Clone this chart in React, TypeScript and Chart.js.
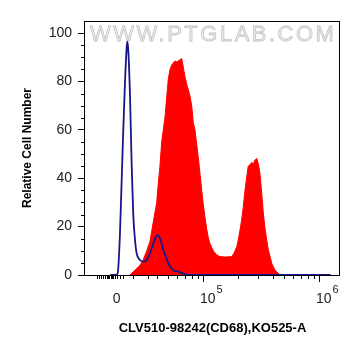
import React, { useEffect, useRef } from 'react';
import { Chart, registerables } from 'chart.js';

Chart.register(...registerables);

const FONT = '"Liberation Sans", Arial, Helvetica, sans-serif';

// x values are display positions on the biexponential axis (100 units per decade; 10^5 -> 500)
const isotypeX = [420, 425.0, 426.1, 427.0, 428.5, 429.9, 431.3, 432.8, 434.2, 434.7, 435.6, 437.1, 438.5, 439.9, 441.4, 442.8, 445.7, 448.5, 451.5, 454.3, 457.2, 459.1, 460.8, 462.6, 464.4, 465.8, 467.2, 470.1, 472.4, 474.4, 478.7, 481.6, 485.9, 488.8, 500, 610];
const isotypeY = [0, 0, 0.3, 3, 18, 39, 60, 80, 94, 96.5, 93, 74, 46, 25, 14.5, 9, 6.2, 5.5, 6.2, 9, 13, 15.5, 16.5, 15.5, 13, 10.3, 8.5, 4.8, 3, 2, 1.4, 0.8, 0.2, 0, 0, 0];

const cd68X = [437.1, 441.4, 445.7, 448.3, 451.5, 454.3, 457.2, 460.1, 461.5, 462.9, 464.4, 465.8, 467.2, 469.0, 470.1, 471.6, 473.3, 475.9, 477.6, 478.7, 480.2, 481.6, 483.0, 484.5, 485.9, 487.1, 488.8, 490.3, 491.6, 493.1, 494.6, 496.1, 497.4, 498.9, 500.3, 501.7, 503.2, 504.6, 506.0, 508.9, 511.8, 514.7, 519.0, 524.7, 526.7, 529.1, 530.4, 531.9, 533.4, 534.7, 536.2, 537.7, 539.0, 540.5, 541.9, 543.4, 544.8, 546.3, 547.7, 549.1, 550.6, 552.0, 553.4, 554.9, 556.3, 557.8, 559.5, 562.1, 566.4];
const cd68Y = [0, 2, 4, 6, 10, 14, 22, 30, 38, 45, 55, 60, 65, 75, 81, 85, 87, 88.5, 88, 88.5, 89, 89.5, 86, 82, 79, 77, 74, 70, 63, 60, 54, 48, 42, 35, 29, 24, 19, 15.5, 13, 10, 8.3, 7.6, 7.4, 7.6, 9, 11.7, 14.5, 18.6, 23, 28, 35, 40.6, 45, 45.5, 46.5, 46, 47.5, 48.2, 46, 42, 34, 25.6, 19.5, 14.5, 10.5, 7.6, 4.5, 2, 0];

const yMajorTicks = [0, 20, 40, 60, 80, 100];
const yMinorTicks = [5, 10, 15, 25, 30, 35, 45, 50, 55, 65, 70, 75, 85, 90, 95];

const xLabelPositions = [425.6, 500, 600];
const xLabelBase = ['0', '10', '10'];
const xLabelExp = ['', '5', '6'];
const xMajorTicks = [500, 600];
const xMinorTicks = [408.4, 410.4, 412.1, 414.1, 415.5, 417.0, 418.4, 419.4, 420.4, 421.6, 422.7, 424.1, 426.1, 428.5, 430.8, 439.9, 452.8, 460.2, 469.9, 477.8, 484.5, 490.3, 495.4, 530.1, 547.7, 560.2, 569.9, 577.8, 584.5, 590.3, 595.4];

const X_MIN = 398.3;
const X_MAX = 618.1;
const Y_MIN = 0;
const Y_MAX = 105;

const WATERMARK = 'WWW.PTGLAB.COM';
const X_TITLE = 'CLV510-98242(CD68),KO525-A';
const Y_TITLE = 'Relative Cell Number';

const decorPlugin = {
  id: 'decor',
  beforeDatasetsDraw(chart: any) {
    const { ctx, chartArea } = chart;
    ctx.save();
    ctx.font = `22px ${FONT}`;
    try { (ctx as any).letterSpacing = '2.5px'; } catch (e) {}
    ctx.textAlign = 'left';
    ctx.textBaseline = 'alphabetic';
    ctx.fillStyle = '#eeeeee';
    ctx.strokeStyle = '#c4c4c4';
    ctx.lineWidth = 0.8;
    ctx.fillText(WATERMARK, chartArea.left + 5, chartArea.top + 20);
    ctx.strokeText(WATERMARK, chartArea.left + 5, chartArea.top + 20);
    ctx.restore();
  },
  afterDatasetsDraw(chart: any) {
    const { ctx, chartArea, scales } = chart;
    const xs = scales.x;
    const ys = scales.y;
    ctx.save();
    // frame
    ctx.strokeStyle = '#000';
    ctx.lineWidth = 1;
    ctx.strokeRect(Math.round(chartArea.left) - 0.5, Math.round(chartArea.top) + 0.5,
      Math.round(chartArea.right - chartArea.left) + 0, Math.round(chartArea.bottom - chartArea.top));
    // y minor ticks
    ctx.beginPath();
    yMinorTicks.forEach((v) => {
      const py = Math.round(ys.getPixelForValue(v)) + 0.5;
      ctx.moveTo(chartArea.left - 4, py);
      ctx.lineTo(chartArea.left, py);
    });
    // x ticks
    const base = Math.round(chartArea.bottom);
    xMinorTicks.forEach((v) => {
      const px = Math.round(xs.getPixelForValue(v)) + 0.5;
      ctx.moveTo(px, base);
      ctx.lineTo(px, base + 4);
    });
    xMajorTicks.forEach((v) => {
      const px = Math.round(xs.getPixelForValue(v)) + 0.5;
      ctx.moveTo(px, base);
      ctx.lineTo(px, base + 7);
    });
    ctx.stroke();
    // x labels with superscript exponent
    ctx.fillStyle = '#222';
    ctx.textBaseline = 'alphabetic';
    xLabelPositions.forEach((v, i) => {
      const px = xs.getPixelForValue(v);
      if (!xLabelExp[i]) {
        ctx.font = `14px ${FONT}`;
        ctx.textAlign = 'center';
        ctx.fillText(xLabelBase[i], px, base + 28);
      } else {
        ctx.font = `14px ${FONT}`;
        ctx.textAlign = 'left';
        const left = px - 3;
        ctx.fillText(xLabelBase[i], left, base + 28);
        const w = ctx.measureText(xLabelBase[i]).width;
        ctx.font = `11px ${FONT}`;
        ctx.fillText(xLabelExp[i], left + w + 1, base + 18);
      }
    });
    ctx.restore();
  },
};

export default function App() {
  const canvasRef = useRef<HTMLCanvasElement | null>(null);

  useEffect(() => {
    const canvas = canvasRef.current;
    if (!canvas) return;
    const chart = new Chart(canvas, {
      type: 'line',
      data: {
        datasets: [
          {
            label: 'Isotype control',
            data: isotypeX.map((x, i) => ({ x, y: isotypeY[i] })),
            borderColor: '#16168c',
            borderWidth: 1.8,
            pointRadius: 0,
            fill: false,
            cubicInterpolationMode: 'monotone',
          },
          {
            label: 'CD68',
            data: cd68X.map((x, i) => ({ x, y: cd68Y[i] })),
            borderColor: '#ff0000',
            backgroundColor: '#ff0000',
            borderWidth: 1,
            pointRadius: 0,
            fill: 'origin',
            tension: 0,
          },
        ],
      },
      options: {
        responsive: false,
        maintainAspectRatio: false,
        animation: false,
        events: [],
        layout: { padding: { left: 0, top: 21, right: 21, bottom: 0 } },
        plugins: { legend: { display: false }, tooltip: { enabled: false } },
        scales: {
          x: {
            type: 'linear',
            min: X_MIN,
            max: X_MAX,
            grid: { display: false },
            border: { display: false },
            ticks: { display: false },
            title: {
              display: true,
              text: X_TITLE,
              color: '#000',
              font: { family: FONT, size: 13, weight: 'bold' },
              padding: { top: 0, bottom: 20 },
            },
            afterFit: (scale: any) => { scale.height = 81; },
          },
          y: {
            type: 'linear',
            min: Y_MIN,
            max: Y_MAX,
            afterBuildTicks: (scale: any) => { scale.ticks = yMajorTicks.map((v) => ({ value: v })); },
            grid: {
              display: true,
              drawOnChartArea: false,
              drawTicks: true,
              tickLength: 7,
              tickColor: '#000',
              color: '#000',
            },
            border: { display: false },
            ticks: {
              color: '#222',
              font: { family: FONT, size: 14 },
              padding: 6,
              autoSkip: false,
            },
            title: {
              display: true,
              text: Y_TITLE,
              color: '#000',
              font: { family: FONT, size: 12, weight: 'bold' },
              padding: { top: 20, bottom: 0 },
            },
            afterFit: (scale: any) => { scale.width = 85; },
          },
        },
      } as any,
      plugins: [decorPlugin],
    });
    return () => chart.destroy();
  }, []);

  return (
    <div style={{ position: 'absolute', left: 0, top: 0, width: 361, height: 356, background: '#fff' }}>
      <canvas ref={canvasRef} width={361} height={356} style={{ display: 'block' }} />
    </div>
  );
}
